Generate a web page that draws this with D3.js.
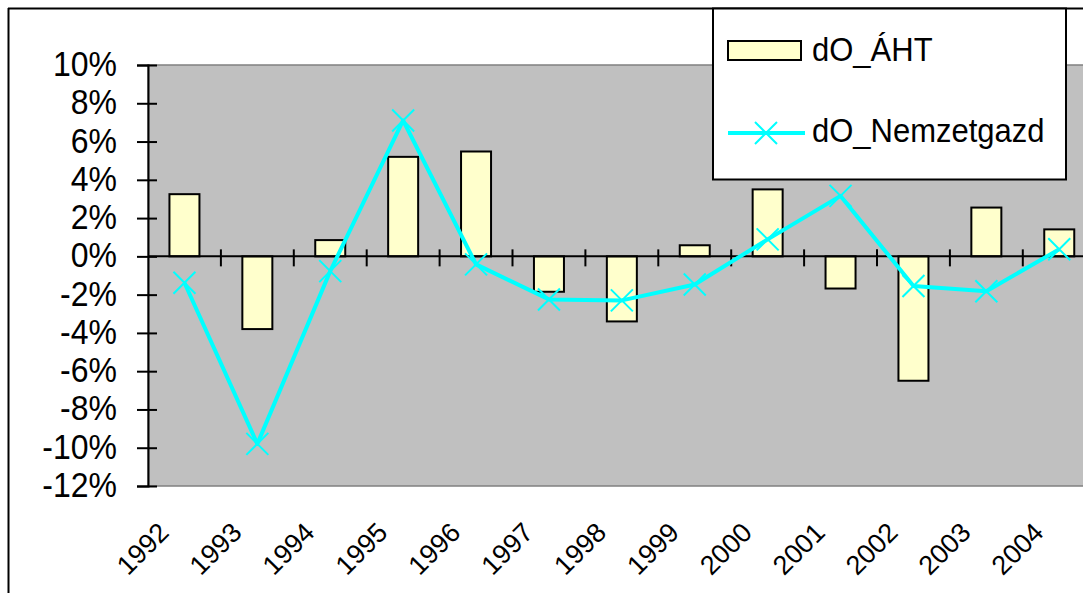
<!DOCTYPE html>
<meta charset="UTF-8">
<script src="https://d3js.org/d3.v7.min.js"></script>
<style>
body { margin: 0; background: #fff; }
text { font-family: "Liberation Sans", Arial, sans-serif; fill: #000; }
</style>
<body>
<div id="chart"></div>
<script>
// data (fractions)
var years = ["1992","1993","1994","1995","1996","1997","1998","1999","2000","2001","2002","2003","2004"];
var dO_AHT = [0.0325,-0.038,0.0085,0.052,0.0548,-0.0185,-0.034,0.0058,0.035,-0.0168,-0.065,0.0255,0.0141];
var dO_Nemzetgazd = [-0.0138,-0.098,-0.0077,0.071,-0.0042,-0.0225,-0.023,-0.0147,0.0089,0.0316,-0.0155,-0.0182,0.0037];
var yTicks = [-0.12,-0.10,-0.08,-0.06,-0.04,-0.02,0,0.02,0.04,0.06,0.08,0.10];
var seriesNames = ["dO_ÁHT", "dO_Nemzetgazd"];

var W = 1083, H = 593;
var plotLeft = 148, plotTop = 65, plotBottom = 486, step = 72.9;

var svg = d3.select("#chart").append("svg")
    .attr("width", W)
    .attr("height", H);

// chart frame (right/bottom edges are cut off in the original)
svg.append("line").attr("x1", 8).attr("x2", W).attr("y1", 8.5).attr("y2", 8.5)
  .attr("stroke", "#000").attr("stroke-width", 2);
svg.append("line").attr("x1", 8.5).attr("x2", 8.5).attr("y1", 8).attr("y2", H)
  .attr("stroke", "#000").attr("stroke-width", 2);

var x = d3.scaleBand()
  .domain(years)
  .range([plotLeft, plotLeft + step * years.length])
  .padding(0);

var y = d3.scaleLinear()
  .domain([-0.12, 0.10])
  .range([plotBottom, plotTop]);

var pct = function(d) { return Math.round(d * 100) + "%"; };

// plot area
svg.append("rect")
  .attr("x", plotLeft).attr("y", plotTop)
  .attr("width", step * years.length).attr("height", plotBottom - plotTop)
  .attr("fill", "#c0c0c0")
  .attr("stroke", "#808080").attr("stroke-width", 1.5);

// y axis with crossing ticks
var yAxis = svg.append("g")
  .attr("transform", "translate(" + plotLeft + ",0)")
  .call(d3.axisLeft(y).tickValues(yTicks).tickSize(11).tickFormat(""));
yAxis.select(".domain").attr("stroke", "#000").attr("stroke-width", 2);
yAxis.selectAll(".tick line").attr("x1", 9).attr("x2", -11).attr("stroke-width", 2);

svg.append("g").selectAll("text")
  .data(yTicks)
  .enter()
  .append("text")
    .attr("transform", function(d) { return "translate(117," + (y(d) + 11) + ") scale(1,1.1)"; })
    .attr("text-anchor", "end")
    .attr("font-size", 32)
    .text(pct);

// bars
var bw = 30;
svg.append("g").selectAll("rect")
  .data(dO_AHT)
  .enter()
  .append("rect")
    .attr("x", function(d, i) { return x(years[i]) + x.bandwidth() / 2 - bw / 2; })
    .attr("y", function(d) { return y(Math.max(0, d)); })
    .attr("width", bw)
    .attr("height", function(d) { return Math.abs(y(d) - y(0)); })
    .attr("fill", "#ffffcc")
    .attr("stroke", "#000")
    .attr("stroke-width", 2);

// category axis on the zero line, ticks at category boundaries
var bounds = years.map(function(d) { return x(d); }).concat([x.range()[1]]);
svg.append("line")
  .attr("x1", plotLeft).attr("x2", x.range()[1])
  .attr("y1", y(0)).attr("y2", y(0))
  .attr("stroke", "#000").attr("stroke-width", 2);
svg.append("g").selectAll("line")
  .data(bounds.slice(1))
  .enter()
  .append("line")
    .attr("x1", function(d) { return d; }).attr("x2", function(d) { return d; })
    .attr("y1", y(0) - 7).attr("y2", y(0) + 10)
    .attr("stroke", "#000").attr("stroke-width", 2);

svg.append("g").selectAll("text")
  .data(years)
  .enter()
  .append("text")
    .attr("transform", function(d) { return "translate(" + (x(d) + x.bandwidth() / 2 - 14) + ",534) rotate(-45)"; })
    .attr("text-anchor", "end")
    .attr("font-size", 27)
    .text(function(d) { return d; });

// line series
var line = d3.line()
  .x(function(d, i) { return x(years[i]) + x.bandwidth() / 2; })
  .y(function(d) { return y(d); });

svg.append("path")
  .datum(dO_Nemzetgazd)
  .attr("d", line)
  .attr("fill", "none")
  .attr("stroke", "#00ffff")
  .attr("stroke-width", 4)
  .attr("stroke-linejoin", "round");

var cross = "M-11,-11L11,11M-11,11L11,-11";
svg.append("g").selectAll("path")
  .data(dO_Nemzetgazd)
  .enter()
  .append("path")
    .attr("transform", function(d, i) { return "translate(" + (x(years[i]) + x.bandwidth() / 2) + "," + y(d) + ")"; })
    .attr("d", cross)
    .attr("stroke", "#00ffff")
    .attr("stroke-width", 2);

// legend
var lg = svg.append("g");
lg.append("rect")
  .attr("x", 713).attr("y", 8.5).attr("width", 353).attr("height", 171)
  .attr("fill", "#fff").attr("stroke", "#000").attr("stroke-width", 2);
lg.append("rect")
  .attr("x", 728).attr("y", 41).attr("width", 73).attr("height", 19)
  .attr("fill", "#ffffcc").attr("stroke", "#000").attr("stroke-width", 2);
lg.append("line")
  .attr("x1", 728).attr("x2", 805).attr("y1", 133).attr("y2", 133)
  .attr("stroke", "#00ffff").attr("stroke-width", 4);
lg.append("path")
  .attr("transform", "translate(766,133)")
  .attr("d", cross)
  .attr("stroke", "#00ffff").attr("stroke-width", 2);
lg.selectAll("text.lab")
  .data(seriesNames)
  .enter()
  .append("text")
    .attr("class", "lab")
    .attr("transform", function(d, i) { return "translate(812," + (61 + i * 81) + ") scale(1,1.1)"; })
    .attr("font-size", 31)
    .text(function(d) { return d; });
</script>
</body>
